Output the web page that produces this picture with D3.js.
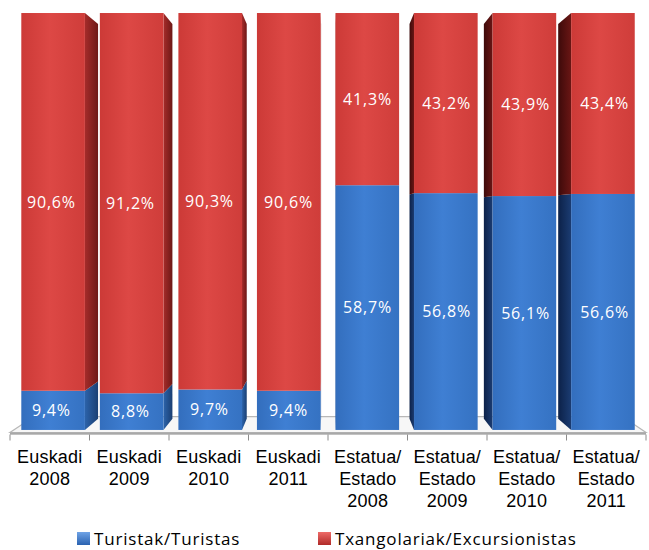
<!DOCTYPE html>
<html><head><meta charset="utf-8">
<script src="https://cdn.jsdelivr.net/npm/d3@7"></script>
<style>body{margin:0;background:#fff}svg{display:block}</style>
</head><body>
<script>
const categories = [["Euskadi","2008"],["Euskadi","2009"],["Euskadi","2010"],["Euskadi","2011"],
  ["Estatua/","Estado","2008"],["Estatua/","Estado","2009"],["Estatua/","Estado","2010"],["Estatua/","Estado","2011"]];
const turistak = [9.4, 8.8, 9.7, 9.4, 58.7, 56.8, 56.1, 56.6];
const txangolariak = [90.6, 91.2, 90.3, 90.6, 41.3, 43.2, 43.9, 43.4];
const seriesNames = ["Turistak/Turistas", "Txangolariak/Excursionistas"];

const W = 649, H = 550;
const svg = d3.select("body").append("svg").attr("width", W).attr("height", H);
const defs = svg.append("defs");
function grad(id, stops, x2 = "100%", y2 = "0%") {
  const g = defs.append("linearGradient").attr("id", id).attr("x1", "0%").attr("y1", "0%").attr("x2", x2).attr("y2", y2);
  stops.forEach(([o, c]) => g.append("stop").attr("offset", o).attr("stop-color", c));
}
grad("fRed", [["0%", "#cc3a37"], ["45%", "#dd4845"], ["100%", "#cf3d3a"]]);
grad("fBlue", [["0%", "#336ebd"], ["45%", "#3f7fd3"], ["100%", "#3572c2"]]);
grad("sRedR", [["0%", "#a52c2a"], ["100%", "#6e1816"]]);
grad("sBlueR", [["0%", "#2c63aa"], ["100%", "#1a3f73"]]);
grad("sRedL", [["0%", "#3d0a0a"], ["100%", "#6a1614"]]);
grad("sBlueL", [["0%", "#0c2148"], ["100%", "#1b3c72"]]);
grad("lBlue", [["0%", "#6fa3e6"], ["100%", "#2a62b0"]], "0%", "100%");
grad("lRed", [["0%", "#ee6b68"], ["100%", "#b02a28"]], "0%", "100%");

const VP = { x: 330, y: 220 };
const P = (x, y, d) => [VP.x + (x - VP.x) * (1 - d), VP.y + (y - VP.y) * (1 - d)];
const dF = 0.012, dB = 0.065, dFloor = 0.075;

const x = d3.scaleBand().domain(d3.range(categories.length)).range([10, 646]).paddingInner(0.19).paddingOuter(0.095);
const y = d3.scaleLinear().domain([0, 100]).range([432.5, 10.5]);

// floor
const fy = y(0);
const floorPts = [P(10, fy, 0), P(646, fy, 0), P(646, fy, dFloor), P(10, fy, dFloor)];
svg.append("polygon").attr("points", floorPts.map(p => p.join(",")).join(" "))
  .attr("fill", "#f7f7f7").attr("stroke", "#b8b8b8").attr("stroke-width", 1.2);
svg.append("rect").attr("x", 10).attr("y", fy).attr("width", 636).attr("height", 2.2).attr("fill", "#a8a8a8");
// ticks
const ticks = d3.range(categories.length + 1).map(i => 10 + i * x.step());
svg.selectAll(".tick").data(ticks).enter().append("line")
  .attr("x1", d => d).attr("x2", d => d).attr("y1", fy + 2).attr("y2", fy + 8)
  .attr("stroke", "#8c8c8c").attr("stroke-width", 1);

const stacks = categories.map((c, i) => [
  { s: 0, y0: 0, y1: turistak[i], v: turistak[i] },
  { s: 1, y0: turistak[i], y1: turistak[i] + txangolariak[i], v: txangolariak[i] }
]);

const poly = pts => pts.map(p => p.join(",")).join(" ");
const fmt = v => v.toFixed(1).replace(".", ",") + "%";

const bars = svg.selectAll(".bar").data(stacks).enter().append("g");
bars.each(function (segs, i) {
  const g = d3.select(this);
  const x0 = x(i), x1 = x(i) + x.bandwidth();
  const leftOfVP = (x0 + x1) / 2 < VP.x;
  const ex = leftOfVP ? x1 : x0;
  segs.forEach(sg => {
    const ya = y(sg.y0), yb = y(Math.min(sg.y1, 100));
    g.append("polygon")
      .attr("points", poly([P(ex, ya, dF), P(ex, yb, dF), P(ex, yb, dB), P(ex, ya, dB)]))
      .attr("fill", `url(#s${sg.s ? "Red" : "Blue"}${leftOfVP ? "R" : "L"})`);
    const a = P(x0, yb, dF), b = P(x1, ya, dF);
    g.append("rect").attr("x", a[0]).attr("y", a[1]).attr("width", b[0] - a[0]).attr("height", b[1] - a[1])
      .attr("fill", `url(#f${sg.s ? "Red" : "Blue"})`);
  });
  segs.forEach(sg => {
    const cx = (x0 + x1) / 2;
    const pc = P(cx, y((sg.y0 + Math.min(sg.y1, 100)) / 2), dF);
    g.append("text").attr("x", (pc[0] + cx) / 2).attr("y", pc[1]).attr("dy", "0.36em")
      .attr("text-anchor", "middle").attr("fill", "#ffffff")
      .attr("font-family", "'Open Sans', sans-serif").attr("font-size", 16).attr("letter-spacing", 0.8)
      .text(fmt(sg.v));
  });
});

// category labels
categories.forEach((lines, i) => {
  const t = svg.append("text").attr("text-anchor", "middle")
    .attr("font-family", "'Liberation Sans', Arial, sans-serif").attr("font-size", 18)
    .attr("letter-spacing", 0.2).attr("fill", "#000");
  lines.forEach((l, j) => t.append("tspan").attr("x", x(i) + x.bandwidth() / 2).attr("y", 463 + j * 22).text(l));
});

// legend
const legendX = [77, 318];
seriesNames.forEach((n, i) => {
  svg.append("rect").attr("x", legendX[i]).attr("y", 532).attr("width", 13).attr("height", 13)
    .attr("fill", i ? "url(#lRed)" : "url(#lBlue)");
  svg.append("text").attr("x", legendX[i] + 17).attr("y", 545)
    .attr("font-family", "'Open Sans', sans-serif").attr("font-size", 17).attr("letter-spacing", 0.8)
    .attr("fill", "#000").text(n);
});
</script>
</body></html>
